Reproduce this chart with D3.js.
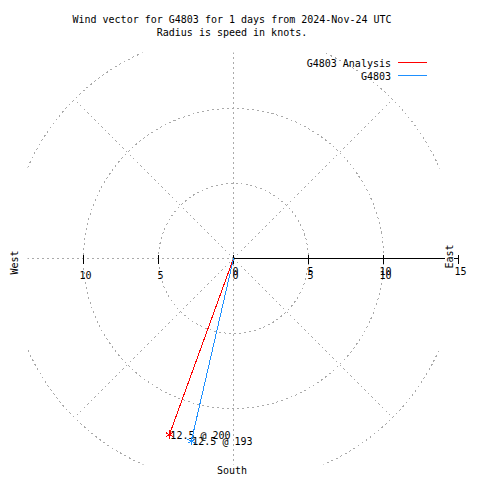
<!DOCTYPE html>
<html><head><meta charset="utf-8">
<script src="https://cdn.jsdelivr.net/npm/d3@7"></script>
<style>body{margin:0;background:#fff}svg{display:block}text{font-family:"DejaVu Sans Mono",monospace;font-size:10px;fill:#000}</style>
</head><body><div id="chart"></div>
<script>
const titleLines = ["Wind vector for G4803 for 1 days from 2024-Nov-24 UTC", "Radius is speed in knots."];
const seriesNames = ["G4803 Analysis", "G4803"];
const seriesColors = ["#ff0000", "#1e90ff"];
const speeds = [12.5, 12.5];
const directions = [200, 193];
const ringValues = [5, 10, 15];
const gridAngles = [0, 45, 90, 135, 180, 225, 270, 315];
const westTicks = [0, 5, 10];
const eastTicks = [0, 5, 10, 15];

const W = 480, H = 480, cx = 233.5, cy = 258.5;
const svg = d3.select("#chart").append("svg").attr("width", W).attr("height", H)
  .attr("shape-rendering", "crispEdges");
const r = d3.scaleLinear().domain([0, 15]).range([0, 225]);
const pt = (spd, deg) => [cx + r(spd) * Math.sin(deg * Math.PI / 180), cy - r(spd) * Math.cos(deg * Math.PI / 180)];

// clip for grid
const half = 206;
svg.append("clipPath").attr("id", "gc").append("rect")
  .attr("x", cx - half).attr("y", cy - half).attr("width", 2 * half).attr("height", 2 * half);
const grid = svg.append("g").attr("clip-path", "url(#gc)")
  .attr("fill", "none").attr("stroke", "#aaaaaa").attr("stroke-dasharray", "2,3");
grid.selectAll("circle").data(ringValues).join("circle")
  .attr("cx", cx).attr("cy", cy).attr("r", d => r(d));
grid.selectAll("line").data(gridAngles).join("line")
  .attr("x1", cx).attr("y1", cy)
  .attr("x2", d => pt(15, d)[0]).attr("y2", d => pt(15, d)[1]);

// title
svg.selectAll("text.title").data(titleLines).join("text").attr("class", "title")
  .attr("x", 232).attr("y", (d, i) => 23 + i * 13).attr("text-anchor", "middle").text(d => d);

// east axis
svg.append("line").attr("x1", r(0) + cx).attr("x2", cx + r(15)).attr("y1", cy).attr("y2", cy).attr("stroke", "#000");
svg.selectAll("line.etick").data(eastTicks).join("line").attr("class", "etick")
  .attr("x1", d => cx + r(d)).attr("x2", d => cx + r(d)).attr("y1", cy - 4).attr("y2", cy + 5).attr("stroke", "#000");
svg.selectAll("line.wtick").data(westTicks.filter(d => d > 0)).join("line").attr("class", "wtick")
  .attr("x1", d => cx - r(d)).attr("x2", d => cx - r(d)).attr("y1", cy - 4).attr("y2", cy + 5).attr("stroke", "#000");

// tick labels (two overlapping sets, as in the original)
svg.selectAll("text.wl").data(westTicks).join("text").attr("class", "wl")
  .attr("x", d => cx - r(d) + 2).attr("y", 279).attr("text-anchor", "middle").text(d => d);
svg.selectAll("text.wl2").data(westTicks.filter(d => d > 0)).join("text").attr("class", "wl2")
  .attr("x", d => cx + r(d) + 2).attr("y", 279).attr("text-anchor", "middle").text(d => d);
svg.selectAll("text.el").data(eastTicks).join("text").attr("class", "el")
  .attr("x", d => cx + r(d) + 2).attr("y", 275).attr("text-anchor", "middle").text(d => d);

// compass labels
const eastG = svg.append("g").attr("transform", `translate(${cx + r(15) - 4},${cy}) rotate(-90)`);
eastG.append("rect").attr("x", -11).attr("y", -10).attr("width", 22).attr("height", 9).attr("fill", "#fff");
eastG.append("text").attr("x", 2).attr("y", -2).attr("text-anchor", "middle").text("East");
svg.append("text").attr("transform", `translate(18,${cy + 4}) rotate(-90)`).attr("text-anchor", "middle").text("West");
svg.append("text").attr("x", 232).attr("y", 474).attr("text-anchor", "middle").text("South");

// legend
const leg = svg.selectAll("g.leg").data(seriesNames).join("g").attr("class", "leg")
  .attr("transform", (d, i) => `translate(0,${67 + i * 13})`);
leg.append("text").attr("x", 391).attr("y", 0).attr("text-anchor", "end").text(d => d);
leg.append("line").attr("x1", 398).attr("x2", 427).attr("y1", -4.5).attr("y2", -4.5)
  .attr("stroke", (d, i) => seriesColors[i]);

// vectors
const vec = svg.selectAll("g.vec").data(speeds.map((s, i) => ({ s, d: directions[i], c: seriesColors[i] })))
  .join("g").attr("class", "vec");
vec.append("line").attr("x1", cx).attr("y1", cy)
  .attr("x2", d => pt(d.s, d.d)[0]).attr("y2", d => pt(d.s, d.d)[1]).attr("stroke", d => d.c);
vec.append("path").attr("d", d3.symbol(d3.symbolAsterisk, 50))
  .attr("transform", d => `translate(${pt(d.s, d.d)[0]},${pt(d.s, d.d)[1]})`)
  .attr("stroke", d => d.c).attr("fill", "none");
vec.append("text").attr("x", d => pt(d.s, d.d)[0] + 1).attr("y", d => pt(d.s, d.d)[1] + 4)
  .text(d => `${d.s} @ ${d.d}`);
</script></body></html>
